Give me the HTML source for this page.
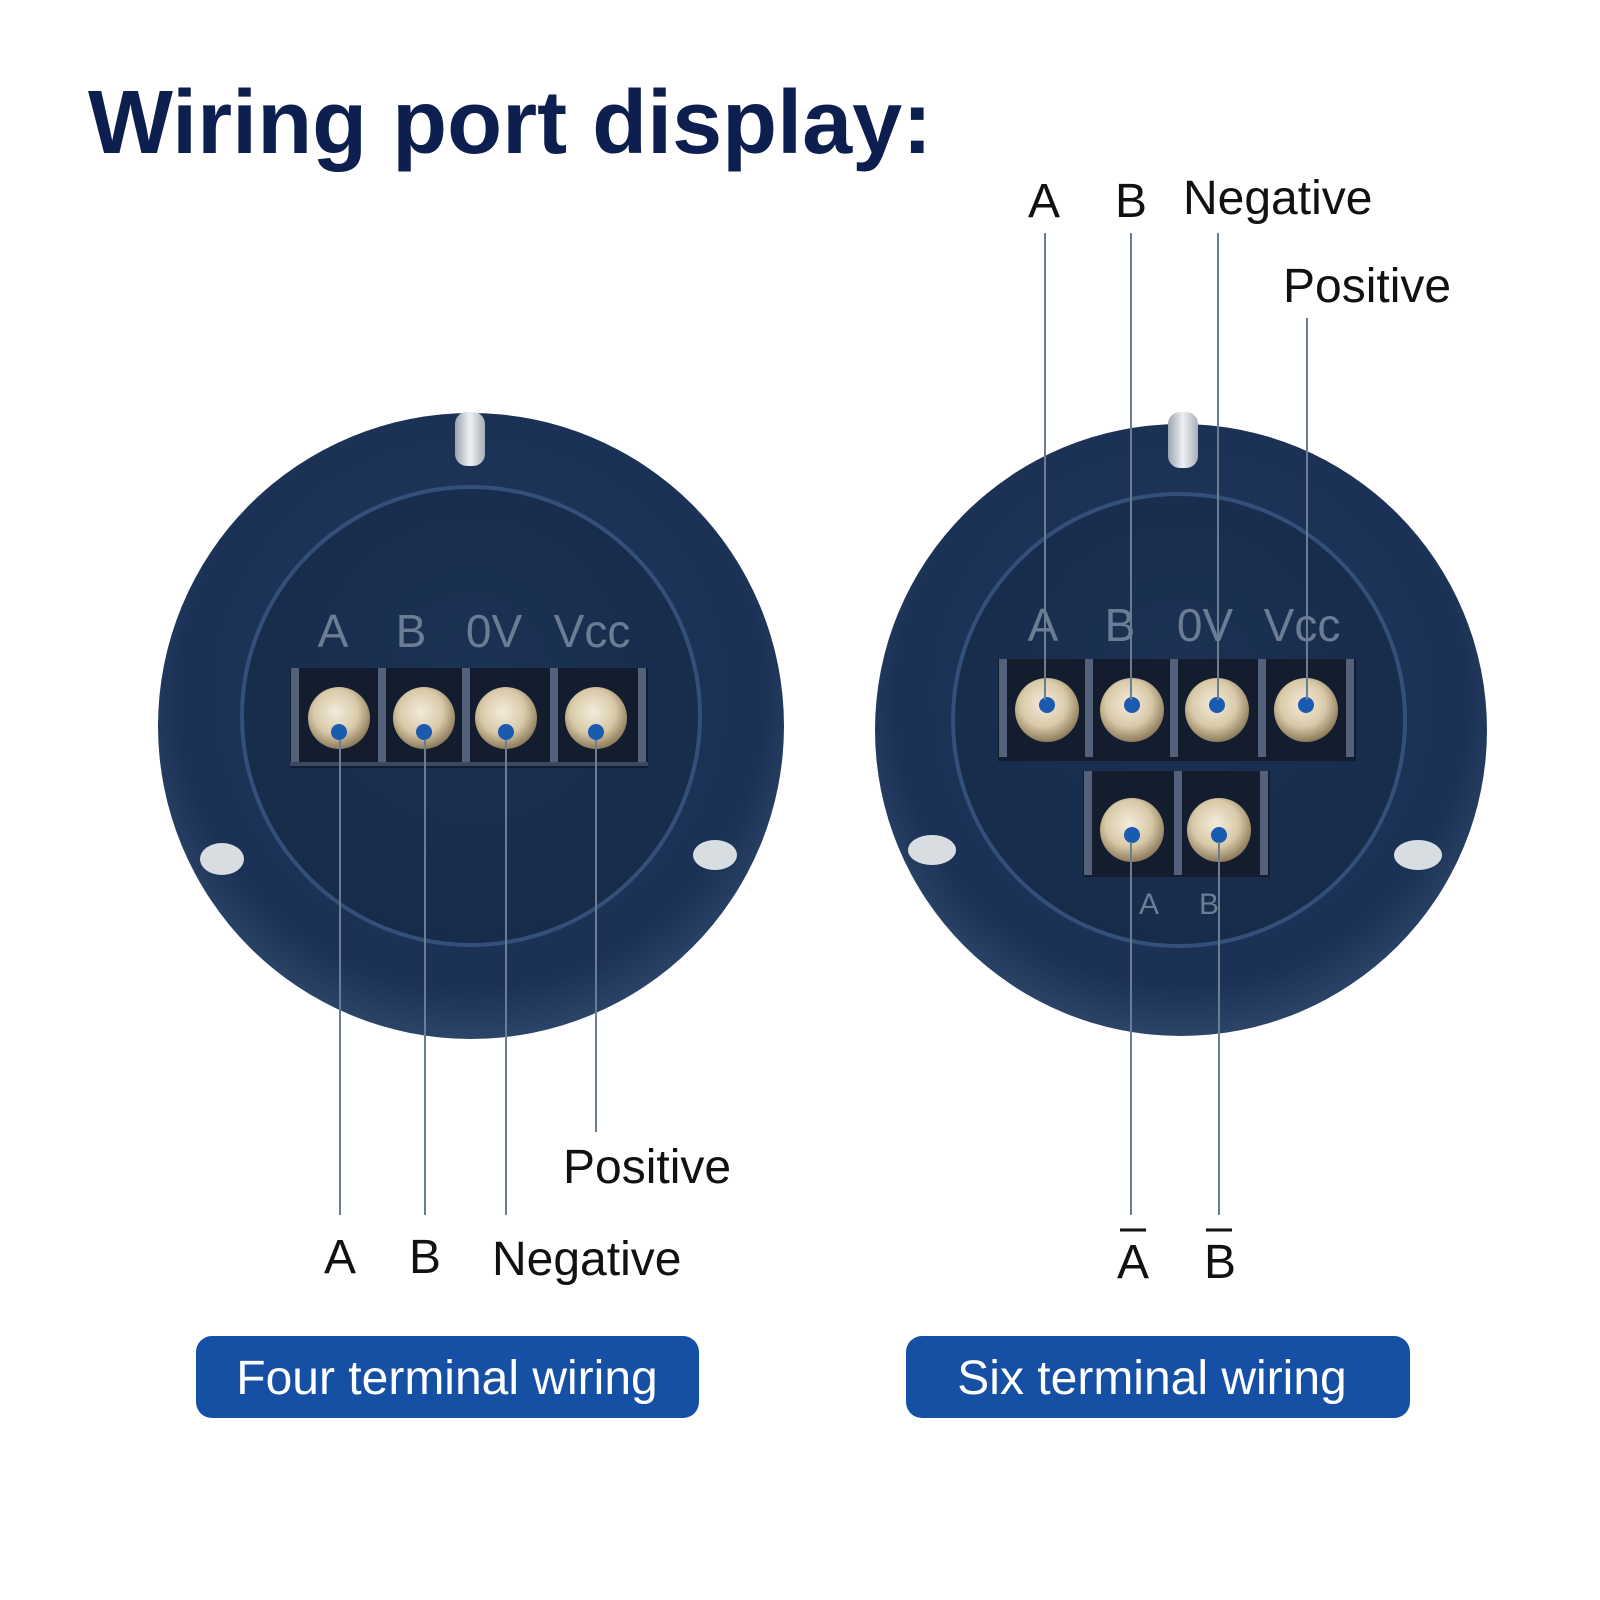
<!DOCTYPE html>
<html><head><meta charset="utf-8"><style>
html,body{margin:0;padding:0;background:#fff;}
svg{display:block;}
</style></head><body>
<svg width="1600" height="1600" viewBox="0 0 1600 1600" xmlns="http://www.w3.org/2000/svg">
<defs>
<radialGradient id="disk" cx="50%" cy="45%" r="55%">
<stop offset="0" stop-color="#1d3457"/><stop offset="0.85" stop-color="#1b3256"/><stop offset="1" stop-color="#2c4468"/>
</radialGradient>
<radialGradient id="face" cx="50%" cy="40%" r="60%">
<stop offset="0" stop-color="#1c3254"/><stop offset="1" stop-color="#172b4a"/>
</radialGradient>
<radialGradient id="screw" cx="45%" cy="40%" r="60%">
<stop offset="0" stop-color="#f3ecdc"/><stop offset="0.6" stop-color="#d8c9a8"/><stop offset="1" stop-color="#8d7c5c"/>
</radialGradient>
<linearGradient id="pin" x1="0" x2="1" y1="0" y2="0">
<stop offset="0" stop-color="#9aa4ae"/><stop offset="0.5" stop-color="#eef1f3"/><stop offset="1" stop-color="#a5aeb8"/>
</linearGradient>
</defs>

<text x="88" y="153" font-family="Liberation Sans, sans-serif" font-weight="bold" font-size="90" fill="#0d1f4f">Wiring port display:</text>

<!-- LEFT DISK -->
<circle cx="471" cy="726" r="313" fill="url(#disk)"/>
<circle cx="471" cy="716" r="229" fill="url(#face)" stroke="#34507a" stroke-width="4"/>
<rect x="455" y="412" width="30" height="54" rx="12" fill="url(#pin)"/>
<ellipse cx="222" cy="859" rx="22" ry="16" fill="#d8dde2"/>
<ellipse cx="715" cy="855" rx="22" ry="15" fill="#d8dde2"/>
<g font-family="Liberation Sans Narrow, Liberation Sans, sans-serif" font-size="46" fill="#6c7c94" text-anchor="middle">
<text x="333" y="647">A</text><text x="411" y="647">B</text><text x="494" y="647">0V</text><text x="592" y="647">Vcc</text>
</g>
<rect x="290" y="668" width="358" height="100" fill="#141d2e"/>
<g fill="#53627a"><rect x="291" y="668" width="8" height="95"/><rect x="378" y="668" width="8" height="95"/><rect x="462" y="668" width="8" height="95"/><rect x="550" y="668" width="8" height="95"/><rect x="638" y="668" width="8" height="95"/></g>
<rect x="290" y="762" width="358" height="4" fill="#3a4a62"/>
<g fill="url(#screw)"><circle cx="339" cy="718" r="31"/><circle cx="424" cy="718" r="31"/><circle cx="506" cy="718" r="31"/><circle cx="596" cy="718" r="31"/></g>
<g fill="#1a5bb0"><circle cx="339" cy="732" r="8"/><circle cx="424" cy="732" r="8"/><circle cx="506" cy="732" r="8"/><circle cx="596" cy="732" r="8"/></g>
<g stroke="#6b7d90" stroke-width="2"><line x1="340" y1="740" x2="340" y2="1215"/><line x1="425" y1="740" x2="425" y2="1215"/><line x1="506" y1="740" x2="506" y2="1215"/><line x1="596" y1="740" x2="596" y2="1132"/></g>

<!-- RIGHT DISK -->
<circle cx="1181" cy="730" r="306" fill="url(#disk)"/>
<circle cx="1179" cy="720" r="226" fill="url(#face)" stroke="#34507a" stroke-width="4"/>
<rect x="1168" y="412" width="30" height="56" rx="12" fill="url(#pin)"/>
<ellipse cx="932" cy="850" rx="24" ry="15" fill="#d8dde2"/>
<ellipse cx="1418" cy="855" rx="24" ry="15" fill="#d8dde2"/>
<g font-family="Liberation Sans Narrow, Liberation Sans, sans-serif" font-size="46" fill="#6c7c94" text-anchor="middle">
<text x="1043" y="641">A</text><text x="1120" y="641">B</text><text x="1205" y="641">0V</text><text x="1302" y="641">Vcc</text>
</g>
<g font-family="Liberation Sans Narrow, Liberation Sans, sans-serif" font-size="30" fill="#6c7c94" text-anchor="middle">
<text x="1149" y="914">A</text><text x="1209" y="914">B</text>
</g>
<rect x="998" y="659" width="358" height="102" fill="#141d2e"/>
<rect x="1083" y="771" width="187" height="106" fill="#141d2e"/>
<g fill="#53627a"><rect x="999" y="659" width="8" height="98"/><rect x="1085" y="659" width="8" height="98"/><rect x="1170" y="659" width="8" height="98"/><rect x="1258" y="659" width="8" height="98"/><rect x="1346" y="659" width="8" height="98"/>
<rect x="1084" y="771" width="8" height="104"/><rect x="1174" y="771" width="8" height="104"/><rect x="1260" y="771" width="8" height="104"/></g>
<g fill="url(#screw)"><circle cx="1047" cy="710" r="32"/><circle cx="1132" cy="710" r="32"/><circle cx="1217" cy="710" r="32"/><circle cx="1306" cy="710" r="32"/><circle cx="1132" cy="830" r="32"/><circle cx="1219" cy="830" r="32"/></g>
<g fill="#1a5bb0"><circle cx="1047" cy="705" r="8"/><circle cx="1132" cy="705" r="8"/><circle cx="1217" cy="705" r="8"/><circle cx="1306" cy="705" r="8"/><circle cx="1132" cy="835" r="8"/><circle cx="1219" cy="835" r="8"/></g>
<g stroke="#6b7d90" stroke-width="2"><line x1="1045" y1="233" x2="1045" y2="700"/><line x1="1131" y1="233" x2="1131" y2="700"/><line x1="1218" y1="233" x2="1218" y2="700"/><line x1="1307" y1="318" x2="1307" y2="700"/>
<line x1="1131" y1="842" x2="1131" y2="1215"/><line x1="1219" y1="842" x2="1219" y2="1215"/></g>

<!-- Labels -->
<g font-family="Liberation Sans, sans-serif" font-size="48" fill="#111">
<text x="1044" y="217" text-anchor="middle">A</text>
<text x="1131" y="217" text-anchor="middle">B</text>
<text x="1183" y="214">Negative</text>
<text x="1283" y="302">Positive</text>
<text x="340" y="1273" text-anchor="middle">A</text>
<text x="425" y="1273" text-anchor="middle">B</text>
<text x="492" y="1275">Negative</text>
<text x="563" y="1183">Positive</text>
<text x="1133" y="1278" text-anchor="middle">A</text>
<text x="1220" y="1278" text-anchor="middle">B</text>
</g>
<g stroke="#111" stroke-width="3"><line x1="1120" y1="1230" x2="1146" y2="1230"/><line x1="1206" y1="1230" x2="1232" y2="1230"/></g>

<!-- Buttons -->
<rect x="196" y="1336" width="503" height="82" rx="16" fill="#1550a5"/>
<rect x="906" y="1336" width="504" height="82" rx="16" fill="#1550a5"/>
<g font-family="Liberation Sans, sans-serif" font-size="48" fill="#fff" text-anchor="middle">
<text x="447" y="1394">Four terminal wiring</text>
<text x="1152" y="1394">Six terminal wiring</text>
</g>
</svg>
</body></html>
